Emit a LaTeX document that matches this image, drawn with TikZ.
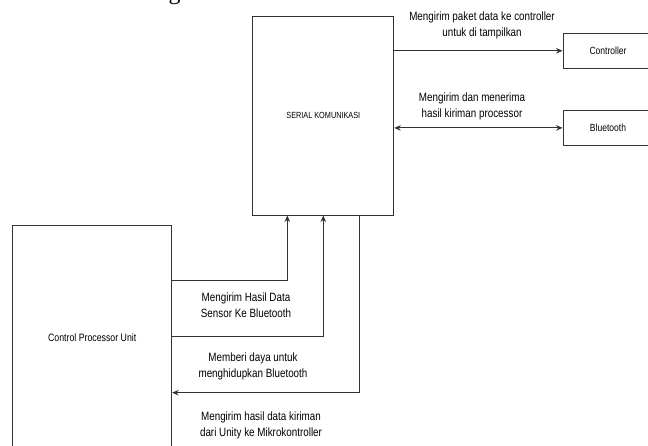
\documentclass[tikz,border=0pt]{standalone}
\usepackage{fontspec}
\setmainfont[FakeStretch=0.82]{Liberation Sans}
\newfontfamily\headfont{Liberation Serif}
\usetikzlibrary{arrows.meta}
\definecolor{edge}{HTML}{333333}
\tikzset{
  block/.style={draw=edge, line width=0.9pt, fill=white, inner sep=0pt,
                font=\fontsize{10.4}{12}\selectfont},
  flow/.style={draw=edge, line width=0.9pt,
               -{Stealth[length=6.5pt,width=5.5pt]}},
  both/.style={draw=edge, line width=0.9pt,
               {Stealth[length=6.5pt,width=5.5pt]}-{Stealth[length=6.5pt,width=5.5pt]}},
  lbl/.style={align=center, inner sep=0pt, font=\fontsize{12}{16}\selectfont}
}
\begin{document}
\begin{tikzpicture}[x=1pt,y=1pt]
\useasboundingbox (0,0) rectangle (648,-446);
\fill[white] (0,0) rectangle (648,-446);

% heading of the page, cut by the top edge
\begin{scope}
  \clip (0,0) rectangle (648,-446);
  \node[anchor=base west, inner sep=0pt, font=\headfont\fontsize{24}{28}\selectfont]
    (head) at (45,0) {3.2 Blok Diagram Bluetooth};
\end{scope}

% blocks
\node[block, minimum width=141pt, minimum height=199pt, font=\fontsize{8.9}{10}\selectfont]
  (serial) at (323.3,-115.5) {SERIAL KOMUNIKASI};
\node[block, minimum width=90pt, minimum height=35pt]
  (ctrl) at (608,-50.8) {Controller};
\node[block, minimum width=90pt, minimum height=34.3pt]
  (bt) at (608,-127.9) {Bluetooth};
\node[block, minimum width=159pt, minimum height=224.6pt, font=\fontsize{10.7}{12}\selectfont]
  (cpu) at (92.2,-338) {Control Processor Unit};

% serial link to the outputs
\draw[flow] (serial.east |- ctrl.west) -- (ctrl.west);
\draw[both] (serial.east |- bt.west) -- (bt.west);

% links between the processor and the serial block
\coordinate (in1) at ([xshift=-36pt]serial.south);
\coordinate (in2) at (serial.south);
\coordinate (out1) at ([xshift=35.7pt]serial.south);
\draw[flow] (cpu.east |- 0,-280.7) -| (in1);
\draw[flow] (cpu.east |- 0,-336.7) -| (in2);
\draw[flow] (out1) |- (cpu.east |- 0,-392.7);

% labels
\node[lbl] (l1) at (482,-25.5) {Mengirim paket data ke controller\\untuk di tampilkan};
\node[lbl] (l2) at (472,-106.5) {Mengirim dan menerima\\hasil kiriman processor};
\node[lbl] (l3) at (246,-305) {Mengirim Hasil Data\\Sensor Ke Bluetooth};
\node[lbl] (l4) at (253,-366) {Memberi daya untuk\\menghidupkan Bluetooth};
\node[lbl] (l5) at (261,-425.5) {Mengirim hasil data kiriman\\dari Unity ke Mikrokontroller};
\end{tikzpicture}
\end{document}
